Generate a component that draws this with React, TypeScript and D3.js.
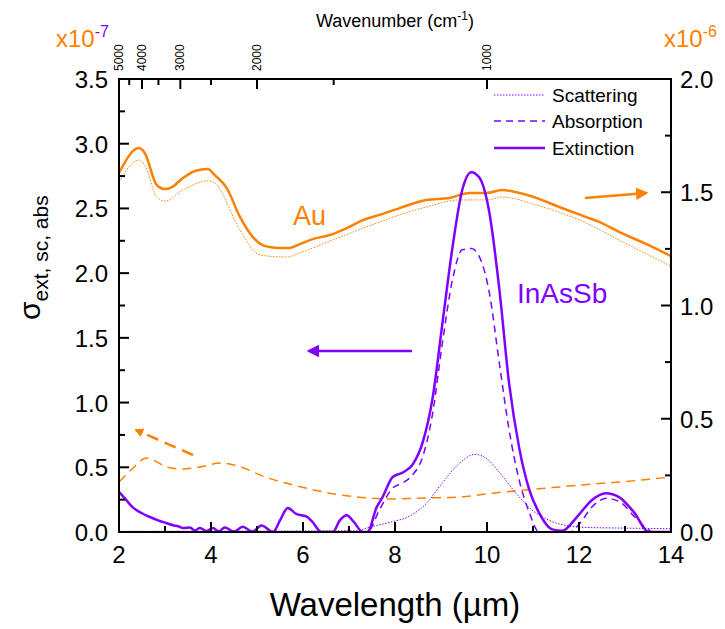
import React from "react";
import * as d3 from "d3";

const W = 725, H = 629;
const ORANGE = "#FF8000";
const PURPLE = "#8000FF";
const FONT = "'Liberation Sans', Arial, sans-serif";

// Au (right axis, x1e-6)
const auExtWl = [2.0,2.43,2.56,2.82,3.0,3.15,3.39,3.65,3.93,4.08,4.34,4.63,4.91,5.12,5.28,5.49,5.71,5.93,6.21,6.58,6.95,7.3,7.66,8.1,8.68,9.18,9.62,9.99,10.33,10.64,11.07,11.57,12.16,12.44,12.87,13.41,14.0];
const auExtVal = [1.585,1.695,1.673,1.532,1.514,1.523,1.563,1.594,1.603,1.576,1.519,1.391,1.302,1.267,1.258,1.254,1.254,1.271,1.293,1.311,1.342,1.377,1.40,1.43,1.466,1.475,1.497,1.497,1.51,1.50,1.475,1.435,1.39,1.369,1.325,1.276,1.218];
const auScaWl = [2.0,2.43,2.56,2.82,3.0,3.39,3.93,4.08,4.63,5.06,5.65,5.93,6.64,7.38,8.1,8.68,9.4,9.99,10.33,11.07,12.16,12.87,14.0];
const auScaVal = [1.545,1.642,1.62,1.479,1.461,1.51,1.55,1.541,1.333,1.223,1.214,1.232,1.289,1.347,1.40,1.435,1.466,1.466,1.479,1.444,1.364,1.289,1.174];
// Au absorption (left axis, x1e-7)
const auAbsWl = [2.0,2.26,2.6,3.04,3.32,3.76,4.2,4.5,5.24,5.96,6.68,7.42,7.95,8.68,9.4,10.12,10.85,11.57,12.29,12.87,14.0];
const auAbsVal = [0.386,0.479,0.572,0.502,0.487,0.502,0.533,0.518,0.417,0.348,0.294,0.263,0.255,0.263,0.27,0.30,0.325,0.348,0.371,0.386,0.425];

// InAsSb (left axis, x1e-7)
const extWl = [2.0,2.15,2.3,2.5,2.67,2.85,3.02,3.2,3.28,3.4,3.54,3.65,3.76,3.9,4.04,4.17,4.3,4.5,4.69,4.9,5.1,5.35,5.5,5.67,5.85,6.07,6.2,6.4,6.65,6.8,6.95,7.1,7.3,7.4,7.6,7.73,7.95,8.17,8.38,8.6,8.82,9.03,9.25,9.46,9.66,9.83,10.05,10.27,10.48,10.7,10.92,11.13,11.42,11.64,11.94,12.29,12.58,12.87,13.2,13.52,14.0];
const extVal = [0.31,0.25,0.19,0.145,0.116,0.09,0.07,0.05,0.045,0.03,0.035,0.012,0.03,0.008,0.03,0.005,0.035,0.003,0.04,0.003,0.05,0.0,0.09,0.185,0.14,0.12,0.08,0.0,0.0,0.09,0.13,0.08,0.0,0.0,0.19,0.27,0.425,0.46,0.52,0.69,1.04,1.61,2.2,2.64,2.78,2.74,2.47,1.87,1.15,0.65,0.325,0.15,0.02,0.01,0.11,0.25,0.30,0.27,0.15,0.0,0.0];
const absWl = [2.0,7.4,7.66,7.95,8.17,8.38,8.6,8.82,9.03,9.25,9.46,9.66,9.83,10.05,10.27,10.48,10.7,10.92,11.13,11.8,12.0,12.3,12.6,12.9,13.2,13.5,13.6,14.0];
const absVal = [0.0,0.0,0.17,0.34,0.38,0.44,0.58,0.92,1.46,1.95,2.18,2.19,2.13,1.85,1.3,0.79,0.4,0.15,0.0,0.0,0.06,0.2,0.26,0.23,0.12,0.02,0.0,0.0];
const scaWl = [2.0,7.2,7.38,7.6,7.95,8.3,8.68,9.03,9.4,9.73,9.98,10.27,10.63,10.98,11.35,11.72,12.15,13.0,14.0];
const scaVal = [0.005,0.01,0.03,0.05,0.08,0.12,0.22,0.38,0.53,0.60,0.57,0.46,0.30,0.17,0.09,0.05,0.035,0.03,0.025];

const xTicks = [2,4,6,8,10,12,14];
const yLeftTicks = [0,0.5,1.0,1.5,2.0,2.5,3.0,3.5];
const yRightTicks = [0,0.5,1.0,1.5,2.0];
const wnTicks = [5000,4000,3000,2000,1000];
const wnMinor = [4500,3500,2500,1500];
const legendItems = ["Scattering","Absorption","Extinction"];

const L = 119, R = 671, T = 79, B = 532;

export default function App() {
  const x = d3.scaleLinear().domain([2,14]).range([L,R]);
  const yL = d3.scaleLinear().domain([0,3.5]).range([B,T]);
  const yR = d3.scaleLinear().domain([0,2]).range([B,T]);
  const mk = (wl: number[], v: number[], y: d3.ScaleLinear<number,number>) =>
    d3.line<number>().x((_, i) => x(wl[i])).y(d => y(d)).curve(d3.curveMonotoneX)(v) || "";

  const minorX = d3.range(3,14,2);
  const minorYL = d3.range(0.25,3.5,0.5);
  const minorYR = d3.range(0.25,2,0.5);
  const legendY = [95,121,148];
  const legendDash = ["1.5,1.5","7,5",""];
  const legendW = [1,1.5,2.5];

  return (
    <svg width={W} height={H} style={{position:"absolute",left:0,top:0}} fontFamily={FONT}>
      <defs>
        <clipPath id="plot"><rect x={L} y={T} width={R-L} height={B-T} /></clipPath>
        <marker id="ahP" viewBox="0 0 10 10" refX="8" refY="5" markerWidth="5" markerHeight="5" orient="auto">
          <path d="M0,0 L10,5 L0,10 z" fill={PURPLE} />
        </marker>
        <marker id="ahO" viewBox="0 0 10 10" refX="8" refY="5" markerWidth="5" markerHeight="5" orient="auto">
          <path d="M0,0 L10,5 L0,10 z" fill={ORANGE} />
        </marker>
        <marker id="ahO2" viewBox="0 0 10 10" refX="8" refY="5" markerWidth="9" markerHeight="9" orient="auto" markerUnits="userSpaceOnUse">
          <path d="M0,0 L10,5 L0,10 z" fill={ORANGE} />
        </marker>
      </defs>
      <rect width={W} height={H} fill="#fff" />
      <g clipPath="url(#plot)" fill="none">
        <path d={mk(auAbsWl, auAbsVal, yL)} stroke={ORANGE} strokeWidth={1.5} strokeDasharray="9,6" />
        <path d={mk(auScaWl, auScaVal, yR)} stroke={ORANGE} strokeWidth={1} strokeDasharray="1.5,1.5" />
        <path d={mk(auExtWl, auExtVal, yR)} stroke={ORANGE} strokeWidth={2.5} />
        <path d={mk(scaWl, scaVal, yL)} stroke={PURPLE} strokeWidth={1} strokeDasharray="1.5,1.5" />
        <path d={mk(absWl, absVal, yL)} stroke={PURPLE} strokeWidth={1.5} strokeDasharray="7,5" />
        <path d={mk(extWl, extVal, yL)} stroke={PURPLE} strokeWidth={2.5} />
      </g>
      {/* frame */}
      <rect x={L} y={T} width={R-L} height={B-T} fill="none" stroke="#000" strokeWidth={2} />
      {/* bottom ticks */}
      {xTicks.map(t => (
        <g key={"xt"+t}>
          <line x1={x(t)} x2={x(t)} y1={B} y2={B-10} stroke="#000" strokeWidth={2} />
          <text x={x(t)} y={563} textAnchor="middle" fontSize={24}>{t}</text>
        </g>
      ))}
      {minorX.map(t => <line key={"mx"+t} x1={x(t)} x2={x(t)} y1={B} y2={B-6} stroke="#000" strokeWidth={2} />)}
      {/* left ticks */}
      {yLeftTicks.map(t => (
        <g key={"yl"+t}>
          <line x1={L} x2={L+10} y1={yL(t)} y2={yL(t)} stroke="#000" strokeWidth={2} />
          <text x={108} y={yL(t)+9} textAnchor="end" fontSize={24}>{t.toFixed(1)}</text>
        </g>
      ))}
      {minorYL.map(t => <line key={"myl"+t} x1={L} x2={L+6} y1={yL(t)} y2={yL(t)} stroke="#000" strokeWidth={2} />)}
      {/* right ticks */}
      {yRightTicks.map(t => (
        <g key={"yr"+t}>
          <line x1={R} x2={R-10} y1={yR(t)} y2={yR(t)} stroke="#000" strokeWidth={2} />
          <text x={680} y={yR(t)+9} textAnchor="start" fontSize={24}>{t.toFixed(1)}</text>
        </g>
      ))}
      {minorYR.map(t => <line key={"myr"+t} x1={R} x2={R-6} y1={yR(t)} y2={yR(t)} stroke="#000" strokeWidth={2} />)}
      {/* top wavenumber ticks */}
      {wnTicks.map(t => (
        <g key={"wn"+t}>
          <line x1={x(1e4/t)} x2={x(1e4/t)} y1={T} y2={T+10} stroke="#000" strokeWidth={2} />
          <text transform={`translate(${x(1e4/t)+4},${T-8}) rotate(-90)`} fontSize={12} textAnchor="start">{t}</text>
        </g>
      ))}
      {wnMinor.map(t => <line key={"wnm"+t} x1={x(1e4/t)} x2={x(1e4/t)} y1={T} y2={T+6} stroke="#000" strokeWidth={2} />)}
      <text x={395} y={27} textAnchor="middle" fontSize={18}>Wavenumber (cm<tspan dy={-7} fontSize={12}>-1</tspan><tspan dy={7}>)</tspan></text>
      {/* multipliers */}
      <text x={56} y={47} fontSize={24} fill={ORANGE}>x10<tspan dy={-10} fontSize={16} fill={PURPLE}>-7</tspan></text>
      <text x={664} y={47} fontSize={24} fill={ORANGE}>x10<tspan dy={-10} fontSize={16}>-6</tspan></text>
      {/* axis titles */}
      <text x={395} y={616} textAnchor="middle" fontSize={33}>Wavelength (µm)</text>
      <text transform="translate(40,320) rotate(-90)" fontSize={30}>σ<tspan fontSize={21} dy={8}>ext, sc, abs</tspan></text>
      {/* legend */}
      {legendItems.map((s, i) => (
        <g key={s}>
          <line x1={494} x2={545} y1={legendY[i]} y2={legendY[i]} stroke={PURPLE} strokeWidth={legendW[i]} strokeDasharray={legendDash[i] || undefined} />
          <text x={552} y={legendY[i]+7} fontSize={19}>{s}</text>
        </g>
      ))}
      {/* annotations */}
      <text x={293} y={225} fontSize={27} fill={ORANGE}>Au</text>
      <text x={517} y={303} fontSize={28} fill={PURPLE}>InAsSb</text>
      <line x1={412} y1={351} x2={309} y2={351} stroke={PURPLE} strokeWidth={2.5} markerEnd="url(#ahP)" />
      <line x1={585} y1={198} x2={646} y2={193} stroke={ORANGE} strokeWidth={2.5} markerEnd="url(#ahO)" />
      <line x1={193} y1={455} x2={136} y2={430} stroke={ORANGE} strokeWidth={2.5} strokeDasharray="12,7" markerEnd="url(#ahO2)" />
    </svg>
  );
}
